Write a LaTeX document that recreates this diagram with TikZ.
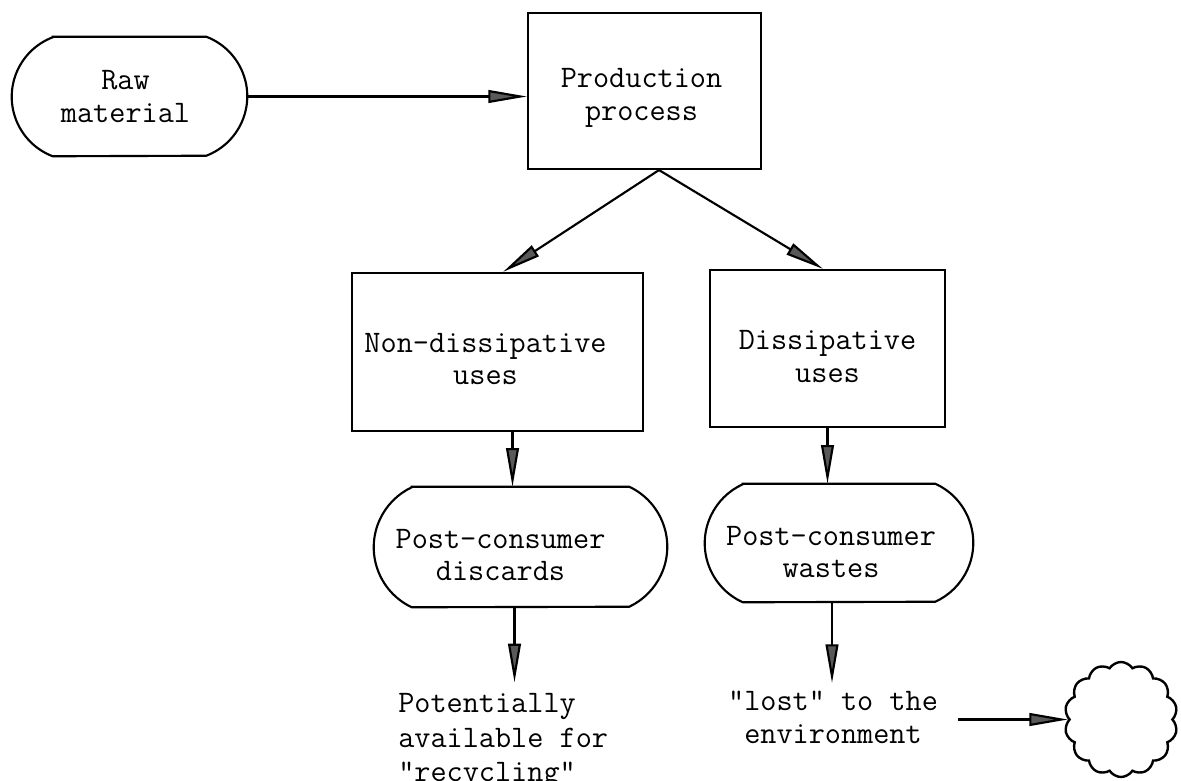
\documentclass[tikz,border=0pt]{standalone}
\usetikzlibrary{arrows.meta,calc,shapes.symbols}

% Terminal shape: flat top and bottom, circular arcs on both sides.
% #1 name, #2 centre, #3 width, #4 height, #5 arc depth (px)
\newcommand\termshape[5]{%
  \node[termnode, minimum width=#3*0.75pt, minimum height=#4*0.75pt] (#1) at #2 {};
  \pgfmathsetmacro\termH{#4/2}%
  \pgfmathsetmacro\termR{(\termH*\termH+#5*#5)/(2*#5)}%
  \pgfmathsetmacro\termA{asin(\termH/\termR)}%
  \pgfmathsetmacro\termRpt{0.75*\termR}%
  \draw[termline] ($(#1.north west)+(#5,0)$) -- ($(#1.north east)+(-#5,0)$)
     arc[start angle=\termA, end angle=-\termA, radius=\termRpt pt]
     -- ($(#1.south west)+(#5,0)$)
     arc[start angle=180+\termA, end angle=180-\termA, radius=\termRpt pt] -- cycle;
}

\begin{document}
\begin{tikzpicture}[x=0.75pt, y=-0.75pt,
  every node/.style={font=\fontsize{23.5pt}{24.5pt}\selectfont\ttfamily},
  boxnode/.style={draw, line width=1.6pt, rectangle, inner sep=0pt},
  termnode/.style={rectangle, inner sep=0pt},
  termline/.style={line width=1.6pt},
  label/.style={align=center, inner sep=0pt},
  plaintext/.style={inner sep=0pt},
  flow/.style={line width=1.6pt, -{Triangle[length=29pt, width=9.5pt, fill=black!65]}}]
\useasboundingbox (0,0) rectangle (1181,781);

% terminals
\termshape{raw}{(129.5,96.5)}{235}{119}{41}
\termshape{disc}{(520.5,547)}{293}{120}{38}
\termshape{waste}{(839,543)}{268}{118}{38}

% process boxes
\node[boxnode, minimum width=174.75pt, minimum height=117pt] (prod) at (644.5,91) {};
\node[boxnode, minimum width=218.25pt, minimum height=118.5pt] (nondis) at (497.5,352) {};
\node[boxnode, minimum width=176.25pt, minimum height=117.75pt] (dis) at (827.5,348.5) {};

% texts inside the shapes
\node[label] (rawtext) at ($(raw.center)+(-4,0)$) {Raw\\material};
\node[label] (prodtext) at ($(prod.center)+(-3,7)$) {Production\\process};
\node[label] (nondistext) at ($(nondis.center)+(-12,7)$) {Non-dissipative\\uses};
\node[label] (distext) at ($(dis.center)+(0,8)$) {Dissipative\\uses};
\node[label] (disctext) at ($(disc.center)+(-20,8)$) {Post-consumer\\discards};
\node[label] (wastetext) at ($(waste.center)+(-8,9)$) {Post-consumer\\wastes};

% end texts
\node[plaintext, align=left, anchor=north west, font=\fontsize{23.5pt}{26pt}\selectfont\ttfamily] (avail) at (398,693)
  {Potentially\\available for\\"recycling"};
\node[plaintext, align=center, anchor=north] (lost) at (833,691) {"lost" to the\\environment};

% environment
\node[cloud, draw, line width=1.8pt, cloud puffs=14, cloud puff arc=115, aspect=1,
      minimum width=84.75pt, minimum height=86.25pt, inner sep=0pt] (env) at (1121,719.5) {};

% flows
\draw[flow] (raw.east) -- (raw.east -| prod.west);
\coordinate (apex) at ($(prod.south)+(14.5,0)$);
\draw[flow] (apex) -- ($(nondis.north)+(5.5,0)$);
\draw[flow] (apex) -- ($(dis.north)+(-4.5,0)$);
\coordinate (a1) at ($(nondis.south)+(15,0)$);
\draw[flow] (a1) -- (a1 |- disc.north);
\draw[flow] (dis.south) -- (dis.south |- waste.north);
\coordinate (a2) at ($(disc.south)+(-6,0)$);
\draw[flow, shorten >=8pt] (a2) -- (a2 |- avail.north);
\coordinate (a3) at ($(waste.south)+(-7,0)$);
\draw[flow, shorten >=6pt] (a3) -- (a3 |- lost.north);
\draw[flow, shorten <=15pt] (lost.east |- env.west) -- (env.west);
\end{tikzpicture}
\end{document}
